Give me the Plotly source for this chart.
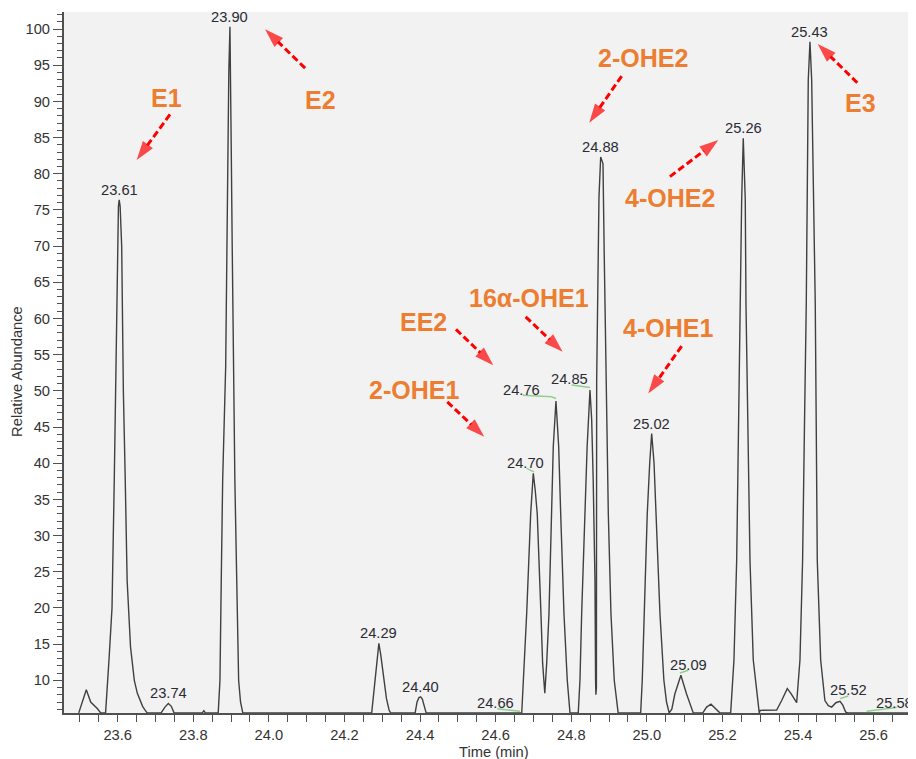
import plotly.graph_objects as go

# ---------------- data ----------------
time_min = [
    23.497, 23.507, 23.517, 23.5286, 23.535, 23.546, 23.555, 23.568,
    23.577, 23.585, 23.591, 23.595, 23.5965, 23.599, 23.602, 23.604, 23.6065,
    23.6106, 23.613, 23.615, 23.620, 23.625, 23.634, 23.644, 23.652, 23.659,
    23.666, 23.672, 23.678, 23.715, 23.725, 23.734, 23.742, 23.749, 23.824,
    23.828, 23.832, 23.866, 23.8706, 23.874, 23.8778, 23.8857, 23.8884, 23.891,
    23.894, 23.897, 23.899, 23.9005, 23.903, 23.9058, 23.910, 23.915, 23.920,
    23.925, 23.931, 24.272, 24.281, 24.287, 24.291, 24.296, 24.304, 24.311,
    24.318, 24.322, 24.387, 24.392, 24.397, 24.4016, 24.406, 24.411, 24.416,
    24.669, 24.676, 24.682, 24.6926, 24.6995, 24.7046, 24.710, 24.7198,
    24.7243, 24.730, 24.7349, 24.741, 24.747, 24.7524, 24.7595, 24.7667,
    24.772, 24.7807, 24.7894, 24.7966, 24.8185, 24.823, 24.8275, 24.836,
    24.842, 24.8495, 24.854, 24.858, 24.8627, 24.8643, 24.8652, 24.8665,
    24.8672, 24.8706, 24.8733, 24.8778, 24.8839, 24.887, 24.8918, 24.898,
    24.905, 24.9137, 24.924, 24.9836, 24.9878, 24.993, 25.001, 25.0075,
    25.0127, 25.019, 25.024, 25.0346, 25.045, 25.052, 25.059, 25.066, 25.074,
    25.090, 25.105, 25.1227, 25.148, 25.158, 25.1696, 25.180, 25.193, 25.2217,
    25.2304, 25.2376, 25.2423, 25.2463, 25.2508, 25.2550, 25.2603, 25.2622,
    25.2675, 25.2728, 25.2815, 25.2973, 25.300, 25.318, 25.3434, 25.3566,
    25.3714, 25.381, 25.3963, 25.405, 25.412, 25.4169, 25.4217, 25.4270,
    25.4315, 25.4360, 25.4455, 25.4481, 25.4508, 25.4598, 25.471, 25.480,
    25.489, 25.500, 25.511, 25.518, 25.526, 25.532, 25.576, 25.580, 25.585,
    25.712,
]
abundance = [
    5.5, 7.2, 8.7, 7.0, 6.7, 6.1, 5.5, 5.5,
    12.8, 20.0, 37.7, 51.5, 60.0, 70.0, 75.5, 76.4, 75.5,
    70.0, 60.0, 50.0, 37.7, 23.8, 14.6, 10.0, 8.2, 7.2,
    6.4, 5.9, 5.5, 5.5, 6.3, 6.8, 6.4, 5.5, 5.5,
    5.8, 5.5, 5.5, 10.0, 23.8, 37.7, 53.3, 70.0, 83.3,
    94.0, 100.3, 94.0, 83.3, 70.0, 53.3, 37.7, 23.8, 10.0,
    7.0, 5.5, 5.5, 10.0, 13.8, 15.1, 13.5, 10.0, 7.5,
    5.9, 5.5, 5.5, 7.0, 7.6, 7.7, 7.4, 6.3, 5.5,
    5.5, 12.0, 19.2, 33.0, 38.6, 36.3, 33.0, 19.2,
    12.3, 8.2, 12.3, 19.2, 33.0, 42.3, 48.6, 42.3,
    33.0, 19.2, 10.0, 5.5, 5.5, 10.0, 19.2, 33.0,
    42.3, 50.1, 46.0, 37.7, 23.8, 10.0, 8.0, 9.0,
    51.5, 64.0, 76.8, 82.3, 81.4, 69.5, 51.5, 33.0,
    19.2, 10.0, 5.5, 5.5, 10.0, 19.2, 33.0, 40.0,
    44.1, 40.0, 33.0, 19.2, 10.0, 7.0, 5.5, 6.0, 8.1,
    10.7, 8.1, 5.5, 5.5, 6.3, 6.7, 6.2, 5.5, 5.5,
    12.8, 26.6, 45.0, 62.0, 76.4, 84.9, 76.4, 62.0,
    45.0, 26.6, 12.8, 5.5, 5.85, 5.9, 5.9, 7.2,
    8.85, 8.2, 6.9, 12.8, 26.6, 45.0, 62.0, 93.0,
    98.25, 93.0, 62.0, 45.0, 26.6, 12.8, 7.2, 6.5,
    6.3, 6.9, 7.1, 6.6, 5.6, 5.5, 5.5, 5.6, 5.5,
    5.5,
]

# retention-time labels and the apex each belongs to
peak_labels = ['23.61', '23.74', '23.90', '24.29', '24.40', '24.66', '24.70', '24.76',
               '24.85', '24.88', '25.02', '25.09', '25.26', '25.43', '25.52', '25.58']
peak_apex_time = [23.604, 23.734, 23.897, 24.291, 24.4016, 24.664, 24.6995, 24.7595,
                  24.8495, 24.8778, 25.0127, 25.090, 25.255, 25.4315, 25.511, 25.581]
peak_apex_abund = [76.4, 6.8, 100.3, 15.1, 7.7, 5.7, 38.6, 48.6,
                   50.1, 82.3, 44.1, 10.7, 84.9, 98.25, 7.1, 5.7]

# compound names (orange callouts)
compounds = ['E1', 'E2', '2-OHE2', '4-OHE2', 'E3', 'EE2', '16α-OHE1', '4-OHE1', '2-OHE1']

# ---------------- layout helpers (positions, not data) ----------------
# labels drawn away from their apex, with a green leader line
offset_labels = {
    '24.66': ((24.6008, 6.86), [(24.604, 6.08), (24.6643, 5.71)]),
    '24.70': ((24.6794, 40.03), [(24.682, 39.28), (24.7012, 38.8)]),
    '24.76': ((24.667, 50.09), [(24.6714, 49.40), (24.7481, 49.17), (24.7595, 48.95)]),
    '24.85': ((24.7966, 51.57), [(24.801, 50.79), (24.8495, 50.47)]),
    '25.09': ((25.1095, 12.17), [(25.0876, 11.0), (25.1095, 11.38)]),
    '25.52': ((25.5328, 8.62), [(25.5108, 7.47), (25.5328, 7.83)]),
    '25.58': ((25.6563, 6.86), [(25.5815, 5.71), (25.6608, 6.23)]),
}
# callout text position, arrow tail, arrow tip (data units)
callout_pos = {
    'E1': ((23.7296, 90.42), (23.7384, 88.2), (23.6503, 81.9)),
    'E2': ((24.1378, 90.19), (24.0958, 94.6), (23.99, 99.96)),
    '2-OHE2': ((24.990, 95.95), (24.9333, 93.5), (24.8476, 87.05)),
    '4-OHE2': ((25.061, 76.6), (25.061, 79.6), (25.1889, 84.66)),
    'E3': ((25.5656, 89.82), (25.5566, 92.58), (25.4519, 97.93)),
    'EE2': ((24.4085, 59.54), (24.495, 58.49), (24.5937, 53.55)),
    '16α-OHE1': ((24.6873, 62.77), (24.6794, 60.23), (24.7772, 55.39)),
    '4-OHE1': ((25.0558, 58.62), (25.092, 56.18), (25.0037, 49.64)),
    '2-OHE1': ((24.3839, 50.09), (24.472, 48.48), (24.5698, 43.64)),
}

FONT = 'Liberation Sans, Arial, sans-serif'
AXIS_COLOR = '#505050'
TEXT_COLOR = '#2b2b33'
ORANGE = '#ED7D31'
RED = '#FF0000'
GREEN = '#8fd08f'

fig = go.Figure()

fig.add_trace(go.Scatter(
    x=time_min, y=abundance, mode='lines',
    line=dict(color='#404040', width=1.4),
    hoverinfo='skip', showlegend=False,
))

# green leader lines
for lab, (pos, leader) in offset_labels.items():
    fig.add_trace(go.Scatter(
        x=[p[0] for p in leader], y=[p[1] for p in leader], mode='lines',
        line=dict(color=GREEN, width=1.5), hoverinfo='skip', showlegend=False,
    ))

# dashed red arrows
for name in compounds:
    _, tail, tip = callout_pos[name]
    fig.add_trace(go.Scatter(
        x=[tail[0], tip[0]], y=[tail[1], tip[1]], mode='lines+markers',
        line=dict(color=RED, width=3, dash='7px,3.5px'),
        marker=dict(symbol='arrow', size=[0, 20], angleref='previous', color=RED,
                    line=dict(width=0)),
        hoverinfo='skip', showlegend=False,
    ))

annotations = []
for lab, t, v in zip(peak_labels, peak_apex_time, peak_apex_abund):
    if lab in offset_labels:
        (lx, ly), _ = offset_labels[lab]
        annotations.append(dict(x=lx, y=ly, xref='x', yref='y', text=lab, showarrow=False,
                                xanchor='center', yanchor='middle',
                                font=dict(family=FONT, size=14.7, color=TEXT_COLOR)))
    else:
        annotations.append(dict(x=t, y=v, xref='x', yref='y', text=lab, showarrow=False,
                                xanchor='center', yanchor='middle', yshift=10,
                                font=dict(family=FONT, size=14.7, color=TEXT_COLOR)))

for name in compounds:
    (lx, ly), _, _ = callout_pos[name]
    annotations.append(dict(x=lx, y=ly, xref='x', yref='y', text='<b>%s</b>' % name,
                            showarrow=False, xanchor='center', yanchor='middle',
                            font=dict(family=FONT, size=25, color=ORANGE)))

# axis titles
annotations.append(dict(x=-0.0552, y=0.488, xref='paper', yref='paper', text='Relative Abundance',
                        textangle=-90, showarrow=False, xanchor='center', yanchor='middle',
                        font=dict(family=FONT, size=14.7, color='#333333')))
annotations.append(dict(x=0.5047, y=-0.0552, xref='paper', yref='paper', text='Time (min)',
                        showarrow=False, xanchor='center', yanchor='middle',
                        font=dict(family=FONT, size=14.7, color='#333333')))

# the page places the figure 8px in from the top-left corner
fig.update_layout(
    width=908, height=751,
    margin=dict(l=56, r=0, t=4, b=46, autoexpand=False),
    paper_bgcolor='white', plot_bgcolor='#f2f2f2',
    showlegend=False,
    font=dict(family=FONT, size=14.7, color='#333333'),
    annotations=annotations,
    xaxis=dict(
        range=[23.458, 25.712], showgrid=False, zeroline=False, automargin=False,
        showline=True, linecolor=AXIS_COLOR, linewidth=2,
        ticks='outside', ticklen=7, tickwidth=1.3, tickcolor=AXIS_COLOR,
        tick0=23.6, dtick=0.2, tickformat='.1f',
        tickfont=dict(family=FONT, size=14.7, color='#333333'),
        minor=dict(dtick=0.05, ticks='outside', ticklen=7, tickwidth=1.3, tickcolor=AXIS_COLOR),
    ),
    yaxis=dict(
        range=[5.48, 102.35], showgrid=False, zeroline=False, automargin=False,
        showline=True, linecolor=AXIS_COLOR, linewidth=2,
        ticks='outside', ticklen=9, tickwidth=1.3, tickcolor=AXIS_COLOR,
        tick0=0, dtick=5,
        tickfont=dict(family=FONT, size=14.7, color='#333333'),
        minor=dict(dtick=1, ticks='outside', ticklen=5, tickwidth=1, tickcolor=AXIS_COLOR),
    ),
)

fig.write_html('out.html')
